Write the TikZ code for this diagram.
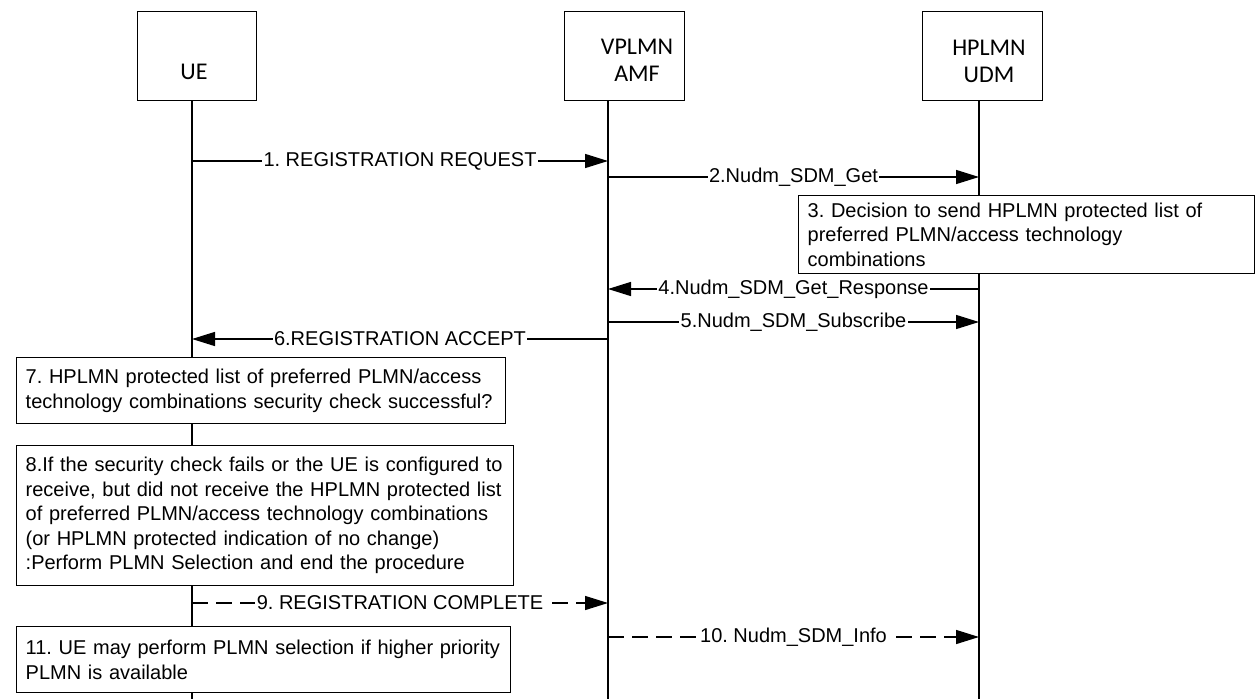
\documentclass[tikz,border=0pt]{standalone}
\usepackage{fontspec}
\setmainfont{Liberation Sans}
\newfontfamily\hdrfont{Carlito}
\usetikzlibrary{arrows.meta}
\frenchspacing
\begin{document}
\begin{tikzpicture}[x=1pt,y=-1pt,line width=1.4pt,
  hdrbox/.style={draw, line width=1.4pt, minimum width=#1, minimum height=89pt, anchor=north west, inner sep=0pt},
  hdrtxt/.style={font=\hdrfont\fontsize{24}{27}\selectfont, align=center, inner sep=0pt},
  lifeline/.style={line width=1.4pt},
  msg/.style={line width=1.4pt, -{Triangle[length=23pt,width=14pt]}},
  dmsg/.style={msg, dash pattern=on 16pt off 8pt},
  lbl/.style={fill=white, inner xsep=1.5pt, inner ysep=2pt, font=\fontsize{20}{24}\selectfont},
  note/.style={draw, fill=white, line width=1.4pt, anchor=north west, align=left,
    inner xsep=9pt, inner ysep=0pt, font=\fontsize{20}{24.5}\selectfont}]
\useasboundingbox (0,0) rectangle (1260,699);
% header boxes
\node[hdrbox=119pt] (ue) at (137,11) {};
\node[hdrbox=120pt] (amf) at (564,11) {};
\node[hdrbox=120pt] (udm) at (922,11) {};
\node[hdrtxt] (uetxt) at (194,72) {UE};
\node[hdrtxt] (amftxt) at (637,60) {VPLMN\\AMF};
\node[hdrtxt] (udmtxt) at (989,61) {HPLMN\\UDM};
% lifelines
\coordinate (ueT) at (192,100);  \coordinate (ueB) at (192,699);
\coordinate (amfT) at (608,100); \coordinate (amfB) at (608,699);
\coordinate (udmT) at (979,100); \coordinate (udmB) at (979,699);
\draw[lifeline] (ueT) -- (ueB);
\draw[lifeline] (amfT) -- (amfB);
\draw[lifeline] (udmT) -- (udmB);
% message anchors
\coordinate (ue1) at (192,161);  \coordinate (amf1) at (608,161);
\coordinate (amf2) at (608,177); \coordinate (udm2) at (979,177);
\coordinate (udm4) at (979,289); \coordinate (amf4) at (608,289);
\coordinate (amf5) at (608,322); \coordinate (udm5) at (979,322);
\coordinate (amf6) at (608,339); \coordinate (ue6) at (192,339);
\coordinate (ue9) at (192,603);  \coordinate (amf9) at (608,603);
\coordinate (amf10) at (608,637); \coordinate (udm10) at (979,637);
% notes
\node[note, text width=438pt, minimum height=78pt] (n3) at (798,195)
  {3. Decision to send HPLMN protected list of\\preferred PLMN/access technology\\combinations};
\node[note, text width=471pt, minimum height=66pt] (n7) at (16,357)
  {7. HPLMN protected list of preferred PLMN/access\\technology combinations security check successful?};
\node[note, text width=479pt, minimum height=140pt] (n8) at (16,445)
  {8.If the security check fails or the UE is configured to\\receive, but did not receive the HPLMN protected list\\of preferred PLMN/access technology combinations\\(or HPLMN protected indication of no change)\\:Perform PLMN Selection and end the procedure};
\node[note, text width=476pt, minimum height=66pt] (n11) at (16,626)
  {\mbox{11. UE may perform PLMN selection if higher priority}\\PLMN is available};
% messages
\draw[msg] (ue1) -- node[lbl] {1. REGISTRATION REQUEST} (amf1);
\draw[msg] (amf2) -- node[lbl] {2.Nudm\_SDM\_Get} (udm2);
\draw[msg] (udm4) -- node[lbl] {4.Nudm\_SDM\_Get\_Response} (amf4);
\draw[msg] (amf5) -- node[lbl] {5.Nudm\_SDM\_Subscribe} (udm5);
\draw[msg] (amf6) -- node[lbl] {6.REGISTRATION ACCEPT} (ue6);
\draw[dmsg] (ue9) -- node[lbl] {9. REGISTRATION COMPLETE} (amf9);
\draw[dmsg] (amf10) -- node[lbl] {10. Nudm\_SDM\_Info} (udm10);
\end{tikzpicture}
\end{document}
